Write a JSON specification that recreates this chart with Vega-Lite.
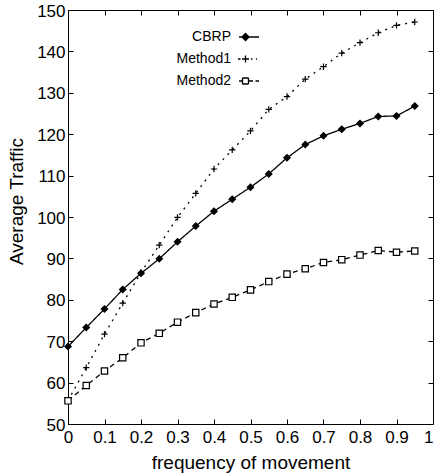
{
  "$schema": "https://vega.github.io/schema/vega-lite/v6.json",
  "width": 365,
  "height": 414,
  "autosize": {"type": "none"},
  "padding": {"left": 68, "top": 10, "right": 2, "bottom": 49},
  "background": "white",
  "config": {
    "view": {"stroke": null},
    "axis": {
      "grid": false,
      "domainColor": "black",
      "tickColor": "black",
      "labelColor": "black",
      "titleColor": "black",
      "labelFont": "Liberation Sans",
      "titleFont": "Liberation Sans",
      "labelFontSize": 17,
      "titleFontSize": 19,
      "titleFontWeight": "normal",
      "tickSize": -5,
      "domainWidth": 1,
      "tickWidth": 1,
      "labelFlush": false,
      "labelOverlap": false
    }
  },
  "data": {
    "values": [
      {"x": 0, "y": 68.7, "series": "CBRP"},
      {"x": 0.05, "y": 73.3, "series": "CBRP"},
      {"x": 0.1, "y": 77.8, "series": "CBRP"},
      {"x": 0.15, "y": 82.5, "series": "CBRP"},
      {"x": 0.2, "y": 86.4, "series": "CBRP"},
      {"x": 0.25, "y": 89.9, "series": "CBRP"},
      {"x": 0.3, "y": 94.0, "series": "CBRP"},
      {"x": 0.35, "y": 97.8, "series": "CBRP"},
      {"x": 0.4, "y": 101.4, "series": "CBRP"},
      {"x": 0.45, "y": 104.3, "series": "CBRP"},
      {"x": 0.5, "y": 107.2, "series": "CBRP"},
      {"x": 0.55, "y": 110.4, "series": "CBRP"},
      {"x": 0.6, "y": 114.3, "series": "CBRP"},
      {"x": 0.65, "y": 117.5, "series": "CBRP"},
      {"x": 0.7, "y": 119.6, "series": "CBRP"},
      {"x": 0.75, "y": 121.2, "series": "CBRP"},
      {"x": 0.8, "y": 122.6, "series": "CBRP"},
      {"x": 0.85, "y": 124.3, "series": "CBRP"},
      {"x": 0.9, "y": 124.4, "series": "CBRP"},
      {"x": 0.95, "y": 126.8, "series": "CBRP"},
      {"x": 0, "y": 55.6, "series": "Method1"},
      {"x": 0.05, "y": 63.6, "series": "Method1"},
      {"x": 0.1, "y": 71.7, "series": "Method1"},
      {"x": 0.15, "y": 79.2, "series": "Method1"},
      {"x": 0.2, "y": 86.6, "series": "Method1"},
      {"x": 0.25, "y": 93.2, "series": "Method1"},
      {"x": 0.3, "y": 99.9, "series": "Method1"},
      {"x": 0.35, "y": 105.7, "series": "Method1"},
      {"x": 0.4, "y": 111.6, "series": "Method1"},
      {"x": 0.45, "y": 116.2, "series": "Method1"},
      {"x": 0.5, "y": 120.8, "series": "Method1"},
      {"x": 0.55, "y": 126.0, "series": "Method1"},
      {"x": 0.6, "y": 129.1, "series": "Method1"},
      {"x": 0.65, "y": 133.3, "series": "Method1"},
      {"x": 0.7, "y": 136.3, "series": "Method1"},
      {"x": 0.75, "y": 139.6, "series": "Method1"},
      {"x": 0.8, "y": 142.1, "series": "Method1"},
      {"x": 0.85, "y": 144.5, "series": "Method1"},
      {"x": 0.9, "y": 146.3, "series": "Method1"},
      {"x": 0.95, "y": 147.1, "series": "Method1"},
      {"x": 0, "y": 55.6, "series": "Method2"},
      {"x": 0.05, "y": 59.3, "series": "Method2"},
      {"x": 0.1, "y": 62.8, "series": "Method2"},
      {"x": 0.15, "y": 66.0, "series": "Method2"},
      {"x": 0.2, "y": 69.6, "series": "Method2"},
      {"x": 0.25, "y": 71.9, "series": "Method2"},
      {"x": 0.3, "y": 74.6, "series": "Method2"},
      {"x": 0.35, "y": 76.9, "series": "Method2"},
      {"x": 0.4, "y": 79.0, "series": "Method2"},
      {"x": 0.45, "y": 80.6, "series": "Method2"},
      {"x": 0.5, "y": 82.4, "series": "Method2"},
      {"x": 0.55, "y": 84.4, "series": "Method2"},
      {"x": 0.6, "y": 86.2, "series": "Method2"},
      {"x": 0.65, "y": 87.5, "series": "Method2"},
      {"x": 0.7, "y": 89.0, "series": "Method2"},
      {"x": 0.75, "y": 89.7, "series": "Method2"},
      {"x": 0.8, "y": 90.8, "series": "Method2"},
      {"x": 0.85, "y": 91.9, "series": "Method2"},
      {"x": 0.9, "y": 91.5, "series": "Method2"},
      {"x": 0.95, "y": 91.8, "series": "Method2"}
    ]
  },
  "layer": [
    {
      "mark": {"type": "line", "color": "black", "strokeWidth": 1.3},
      "encoding": {
        "x": {
          "field": "x", "type": "quantitative",
          "scale": {"domain": [0, 1], "nice": false},
          "axis": {
            "orient": "bottom",
            "values": [0, 0.1, 0.2, 0.3, 0.4, 0.5, 0.6, 0.7, 0.8, 0.9, 1],
            "format": "~g",
            "labelPadding": 10,
            "labelAlign": {"condition": {"test": "datum.value == 1", "value": "right"}, "value": "center"},
            "title": "frequency of movement",
            "titleY": 44,
            "titleBaseline": "alphabetic"
          }
        },
        "y": {
          "field": "y", "type": "quantitative",
          "scale": {"domain": [50, 150], "nice": false, "zero": false},
          "axis": {
            "orient": "left",
            "values": [50, 60, 70, 80, 90, 100, 110, 120, 130, 140, 150],
            "labelPadding": 8,
            "labelOffset": 1,
            "title": "Average Traffic",
            "titleAngle": -90,
            "titleX": -46,
            "titleY": 191,
            "titleBaseline": "alphabetic",
            "titleAlign": "center"
          }
        },
        "strokeDash": {
          "field": "series", "type": "nominal",
          "scale": {"domain": ["CBRP", "Method1", "Method2"], "range": [[1, 0], [2, 5], [5, 4]]},
          "legend": null
        }
      }
    },
    {
      "mark": {"type": "point", "stroke": "black", "strokeWidth": 1.2, "size": 40, "opacity": 1},
      "encoding": {
        "x": {
          "field": "x", "type": "quantitative",
          "axis": {"orient": "top", "labels": false, "title": null,
            "values": [0, 0.1, 0.2, 0.3, 0.4, 0.5, 0.6, 0.7, 0.8, 0.9, 1]}
        },
        "y": {
          "field": "y", "type": "quantitative",
          "axis": {"orient": "right", "labels": false, "title": null,
            "values": [50, 60, 70, 80, 90, 100, 110, 120, 130, 140, 150]}
        },
        "shape": {
          "field": "series", "type": "nominal",
          "scale": {"range": ["diamond", "M-1,0H1M0,-1V1", "square"]},
          "legend": null
        },
        "fill": {
          "field": "series", "type": "nominal",
          "scale": {"range": ["black", "black", "white"]},
          "legend": null
        }
      }
    },
    {
      "mark": {"type": "point", "stroke": "black", "opacity": 0},
      "encoding": {
        "x": {"field": "x", "type": "quantitative", "axis": null},
        "y": {"field": "y", "type": "quantitative", "axis": null},
        "shape": {
          "field": "series", "type": "nominal",
          "scale": {"range": [
            "M-1,0H1M-0.7,0L-0.35,-0.35L0,0L-0.35,0.35ZM-0.58,-0.12H-0.12M-0.58,0.12H-0.12M-0.46,-0.24H-0.24M-0.46,0.24H-0.24",
            "M-1.1,0H-0.85M-0.7,0H0M-0.35,-0.35V0.35M0.2,0H0.35M0.7,0H0.8",
            "M-1,0H-0.65M-0.65,-0.3H-0.05M-0.05,-0.3V0.3M-0.05,0.3H-0.65M-0.65,0.3V-0.3M-0.05,0H0.4M0.65,0H1"
          ]},
          "legend": {
            "orient": "none", "legendX": 170, "legendY": 16, "title": null,
            "symbolSize": 400, "symbolStrokeWidth": 1.3,
            "symbolStrokeColor": "black", "symbolFillColor": "black", "symbolOpacity": 1,
            "labelAlign": "right", "labelOffset": -29,
            "labelFont": "Liberation Sans", "labelFontSize": 14, "labelColor": "black",
            "rowPadding": 4, "padding": 0
          }
        }
      }
    }
  ],
  "resolve": {
    "axis": {"x": "independent", "y": "independent"},
    "scale": {"shape": "independent"}
  }
}
